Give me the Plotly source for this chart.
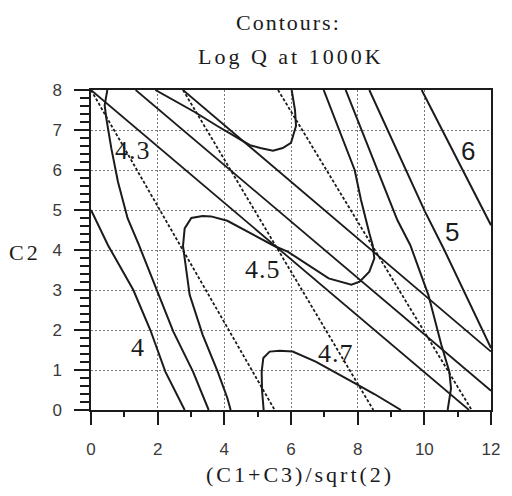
import plotly.graph_objects as go

# ---- contour curves of log Q (vertices in axis units) ----
curve_a_x = [0.0, 0.51, 1.27, 1.78, 2.23, 2.81]
curve_a_y = [5.0, 4.12, 3.0, 2.0, 0.96, 0.0]

curve_b_x = [0.49, 0.41, 0.46, 0.61, 0.81, 1.10, 1.44, 1.98, 2.47, 3.06, 3.53]
curve_b_y = [8.0, 7.62, 7.29, 6.54, 5.70, 4.79, 4.12, 3.0, 1.96, 0.96, 0.0]

curve_c_x = [4.19, 4.09, 3.80, 3.35, 2.96, 2.78, 2.76, 2.81, 3.01, 3.35, 3.60, 4.09,
             4.77, 5.50, 5.90, 6.44, 7.13, 7.81, 8.06, 8.35, 8.50, 8.45, 8.35, 8.10,
             7.91, 6.98]
curve_c_y = [0.0, 0.30, 0.96, 1.88, 2.88, 3.90, 4.10, 4.54, 4.80, 4.85, 4.84, 4.73,
             4.43, 4.10, 3.96, 3.67, 3.29, 3.13, 3.21, 3.46, 3.79, 4.12, 4.42, 5.25,
             6.0, 8.0]

curve_d_x = [1.93, 3.11, 3.79, 4.29, 4.77, 5.08, 5.46, 5.75, 6.0, 6.15, 6.12, 6.02]
curve_d_y = [8.0, 7.45, 7.10, 6.85, 6.62, 6.55, 6.48, 6.55, 6.68, 7.10, 7.50, 8.0]

curve_e_x = [7.64, 9.19, 9.58, 10.12, 10.51, 10.75, 10.80, 10.70]
curve_e_y = [8.0, 4.75, 4.12, 2.88, 1.63, 0.96, 0.54, 0.0]

curve_f_x = [8.35, 10.02, 10.60, 12.0]
curve_f_y = [8.0, 4.96, 4.0, 1.55]

curve_g_x = [9.92, 12.0]
curve_g_y = [8.0, 4.62]

curve_h_x = [5.18, 5.13, 5.12, 5.17, 5.36, 5.66, 6.05, 6.74, 7.91, 8.50, 9.30]
curve_h_y = [0.0, 0.50, 0.96, 1.30, 1.46, 1.48, 1.46, 1.21, 0.67, 0.40, 0.0]

# ---- straight guide lines ----
solid_guides_x = [[0.0, 11.34], [1.34, 12.0], [2.76, 12.0]]
solid_guides_y = [[8.0, 0.0], [8.0, 0.48], [8.0, 1.46]]

dotted_guides_x = [[0.0, 5.51], [2.76, 8.47], [5.61, 11.42]]
dotted_guides_y = [[8.0, 0.0], [8.0, 0.0], [8.0, 0.0]]

# ---- in-plot level labels ----
level_text = ["4.3", "4", "4.5", "4.7", "5", "6"]
level_x = [1.26, 1.41, 5.17, 7.35, 10.85, 11.31]
level_y = [6.48, 1.57, 3.52, 1.42, 4.46, 6.48]

INK = "#1b1b1b"
SERIF = "Liberation Serif"
SANS = "Liberation Sans"

fig = go.Figure()

curves = [
    (curve_a_x, curve_a_y), (curve_b_x, curve_b_y), (curve_c_x, curve_c_y),
    (curve_d_x, curve_d_y), (curve_e_x, curve_e_y), (curve_f_x, curve_f_y),
    (curve_g_x, curve_g_y), (curve_h_x, curve_h_y),
]
for cx, cy in curves:
    fig.add_trace(go.Scatter(x=cx, y=cy, mode="lines",
                             line=dict(color=INK, width=2), hoverinfo="skip"))

for gx, gy in zip(solid_guides_x, solid_guides_y):
    fig.add_trace(go.Scatter(x=gx, y=gy, mode="lines",
                             line=dict(color=INK, width=1.8), hoverinfo="skip"))

for gx, gy in zip(dotted_guides_x, dotted_guides_y):
    fig.add_trace(go.Scatter(x=gx, y=gy, mode="lines",
                             line=dict(color=INK, width=1.8, dash="3px,2px"),
                             hoverinfo="skip"))


def spaced(text, px=3):
    return f'<span style="letter-spacing:{px}px">{text}</span>'


annotations = []
for t, lx, ly in zip(level_text, level_x, level_y):
    fam = SANS if t in ("5", "6") else SERIF
    annotations.append(dict(x=lx, y=ly, xref="x", yref="y", text=spaced(t, 1),
                            showarrow=False, xanchor="center", yanchor="middle",
                            font=dict(family=fam, size=26, color=INK)))

# titles
title_specs = [
    ("Contours:", 2, (292, 22)),
    ("Log Q at 1000K", 3, (295, 56)),
    ("C2", 3, (24, 252)),
    ("(C1+C3)/sqrt(2)", 3, (304, 474)),
]

# place titles in pixel terms relative to the plot area
L, R, T, B = 91, 13, 90, 86
W, H = 512, 496
pw, ph = W - L - R, H - T - B


def px_to_paper(px, py):
    return (px - L) / pw, (H - B - py) / ph


for text, sp, (px, py) in title_specs:
    ax, ay = px_to_paper(px, py)
    annotations.append(dict(x=ax, y=ay, xref="paper", yref="paper",
                            text=spaced(text, sp), showarrow=False,
                            xanchor="center", yanchor="middle",
                            font=dict(family=SERIF, size=22, color=INK)))

fig.update_layout(
    width=W, height=H,
    margin=dict(l=L, r=R, t=T, b=B),
    paper_bgcolor="white", plot_bgcolor="white",
    showlegend=False,
    annotations=annotations,
    xaxis=dict(range=[0, 12], tick0=0, dtick=2, ticks="outside", ticklen=13,
               tickwidth=1.5, tickcolor=INK, showline=True, linecolor=INK,
               linewidth=1.5, mirror=True, showgrid=True, gridcolor="#7a7a7a",
               gridwidth=1, griddash="2px,2px", zeroline=False,
               ticklabelstandoff=10,
               tickfont=dict(family=SANS, size=17, color="#3a3a3a"),
               minor=dict(dtick=1, ticks="outside", ticklen=5, tickwidth=1.5,
                          tickcolor=INK, showgrid=False)),
    yaxis=dict(range=[0, 8], tick0=0, dtick=1, ticks="outside", ticklen=15,
               tickwidth=1.5, tickcolor=INK, showline=True, linecolor=INK,
               linewidth=1.5, mirror=True, showgrid=True, gridcolor="#7a7a7a",
               gridwidth=1, griddash="2px,2px", zeroline=False,
               ticklabelstandoff=9,
               tickfont=dict(family=SANS, size=17, color="#3a3a3a"),
               minor=dict(dtick=0.2, ticks="outside", ticklen=9, tickwidth=1.5,
                          tickcolor=INK, showgrid=False)),
)

fig.write_html("out.html")
